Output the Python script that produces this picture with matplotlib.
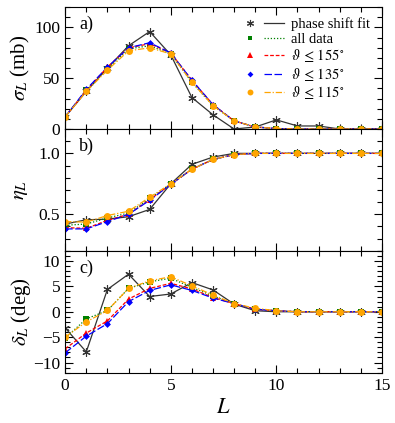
import numpy as np
import matplotlib
matplotlib.use('Agg')
import matplotlib.pyplot as plt
from matplotlib.lines import Line2D
from matplotlib.legend_handler import HandlerTuple
from matplotlib.ticker import MultipleLocator

plt.rcParams['font.family'] = ['Liberation Serif', 'DejaVu Serif']
plt.rcParams['mathtext.fontset'] = 'stix'

L = list(range(16))

# sigma_L (mb)
sig_fit = [12, 37, 60, 82, 96, 73, 31, 14, 0, 2, 9, 3, 3, 0, 0, 0]
sig_all = [12, 38, 59, 79, 82, 74, 46, 23, 8, 2, 0.5, 0, 0, 0, 0, 0]
sig_155 = [12, 38, 61, 80, 84, 75, 48, 24, 8, 2, 0.5, 0, 0, 0, 0, 0]
sig_135 = [12, 39, 61, 80, 85, 75, 48, 24, 8, 2, 0.5, 0, 0, 0, 0, 0]
sig_115 = [12, 37, 58, 77, 80, 74, 46, 23, 8, 2, 0.5, 0, 0, 0, 0, 0]

# eta_L
eta_fit = [0.42, 0.455, 0.46, 0.48, 0.54, 0.75, 0.91, 0.97, 1.0, 1.0, 1.0, 1.0, 1.0, 1.0, 1.0, 1.0]
eta_all = [0.41, 0.42, 0.47, 0.51, 0.63, 0.75, 0.87, 0.95, 0.99, 1.0, 1.0, 1.0, 1.0, 1.0, 1.0, 1.0]
eta_155 = [0.39, 0.385, 0.45, 0.50, 0.62, 0.745, 0.87, 0.95, 0.99, 1.0, 1.0, 1.0, 1.0, 1.0, 1.0, 1.0]
eta_135 = [0.38, 0.38, 0.44, 0.50, 0.615, 0.745, 0.87, 0.95, 0.99, 1.0, 1.0, 1.0, 1.0, 1.0, 1.0, 1.0]
eta_115 = [0.44, 0.436, 0.49, 0.525, 0.64, 0.75, 0.87, 0.95, 0.99, 1.0, 1.0, 1.0, 1.0, 1.0, 1.0, 1.0]

# delta_L (deg)
del_fit = [-3.2, -7.9, 4.4, 7.4, 3.0, 3.5, 5.75, 4.3, 1.5, 0.2, 0.0, 0, 0, 0, 0, 0]
del_all = [-5.2, -1.4, 0.25, 4.6, 5.9, 6.6, 4.8, 3.1, 1.6, 0.5, 0.2, 0, 0, 0, 0, 0]
del_155 = [-7.3, -4.2, -1.8, 2.5, 4.6, 5.6, 4.5, 2.8, 1.6, 0.5, 0.2, 0, 0, 0, 0, 0]
del_135 = [-8.1, -4.8, -2.35, 2.0, 4.2, 5.3, 4.2, 2.7, 1.6, 0.5, 0.2, 0, 0, 0, 0, 0]
del_115 = [-5.0, -2.0, 0.25, 4.6, 6.1, 6.9, 5.1, 3.3, 1.6, 0.7, 0.2, 0, 0, 0, 0, 0]

styles = [
    dict(color='#333333', ls='-', marker=(6, 2, 0), ms=6, mew=0.8),
    dict(color='green', ls=(0, (1, 1.5)), marker='s', ms=4, mew=0),
    dict(color='red', ls=(0, (3, 1.5)), marker='^', ms=4.5, mew=0),
    dict(color='blue', ls=(0, (6, 2)), marker='D', ms=3.5, mew=0),
    dict(color='orange', ls=(0, (5, 1.5, 1, 1.5)), marker='o', ms=5, mew=0),
]
labels = ['phase shift fit', 'all data', r'$\vartheta\,\leq\,155^{\circ}$',
          r'$\vartheta\,\leq\,135^{\circ}$', r'$\vartheta\,\leq\,115^{\circ}$']

fig = plt.figure(figsize=(3.95, 4.23), dpi=100)
left, width = 0.165, 0.802
axa = fig.add_axes([left, 0.695, width, 0.288])
axb = fig.add_axes([left, 0.407, width, 0.288])
axc = fig.add_axes([left, 0.119, width, 0.288])

def draw(ax, series):
    for s, st in zip(series, styles):
        ax.plot(L, s, lw=0.9, color=st['color'], ls=st['ls'], marker=st['marker'],
                ms=st['ms'], mew=st['mew'], mec=st['color'], mfc=st['color'])

draw(axa, [sig_fit, sig_all, sig_155, sig_135, sig_115])
draw(axb, [eta_fit, eta_all, eta_155, eta_135, eta_115])
draw(axc, [del_fit, del_all, del_155, del_135, del_115])

axa.set_ylim(0, 120)
axa.yaxis.set_major_locator(MultipleLocator(50))
axa.yaxis.set_minor_locator(MultipleLocator(10))
axb.set_ylim(0.2, 1.2)
axb.yaxis.set_major_locator(MultipleLocator(0.5))
axb.yaxis.set_minor_locator(MultipleLocator(0.1))
axb.set_yticks([0.5, 1.0])
axb.set_yticklabels(['0.5', '1.0'])
axc.set_ylim(-12, 12)
axc.yaxis.set_major_locator(MultipleLocator(5))
axc.yaxis.set_minor_locator(MultipleLocator(1))

for ax in (axa, axb, axc):
    ax.set_xlim(0, 15)
    ax.xaxis.set_major_locator(MultipleLocator(5))
    ax.xaxis.set_minor_locator(MultipleLocator(1))
    ax.tick_params(which='both', direction='in', top=True, right=True, labelsize=12.5)
    ax.tick_params(which='major', length=6, width=0.8)
    ax.tick_params(which='minor', length=3.5, width=0.8)
    for sp in ax.spines.values():
        sp.set_linewidth(0.8)
for ax in (axa, axb):
    ax.tick_params(labelbottom=False)

axa.set_ylabel(r'$\sigma_L$ (mb)', fontsize=15, labelpad=2)
axb.set_ylabel(r'$\eta_L$', fontsize=15, labelpad=6)
axc.set_ylabel(r'$\delta_L$ (deg)', fontsize=15, labelpad=0)
axc.set_xlabel(r'$L$', fontsize=16, labelpad=4)

for ax, t in zip((axa, axb, axc), ('a)', 'b)', 'c)')):
    ax.text(0.045, 0.93, t, transform=ax.transAxes, fontsize=13, va='top')

handles = []
for st in styles:
    m = Line2D([], [], ls='none', marker=st['marker'], ms=st['ms'] * 0.85, mew=st['mew'],
               color=st['color'], mec=st['color'], mfc=st['color'])
    ln = Line2D([], [], ls=st['ls'], lw=0.9, color=st['color'])
    handles.append((m, ln))
axa.legend(handles, labels, handler_map={tuple: HandlerTuple(ndivide=None, pad=0.3)},
           loc='upper right', frameon=False, fontsize=10.5, handlelength=3.0,
           handletextpad=0.5, labelspacing=0.1, borderaxespad=0.3,
           bbox_to_anchor=(0.995, 1.0))

fig.savefig('out.png', dpi=100)
